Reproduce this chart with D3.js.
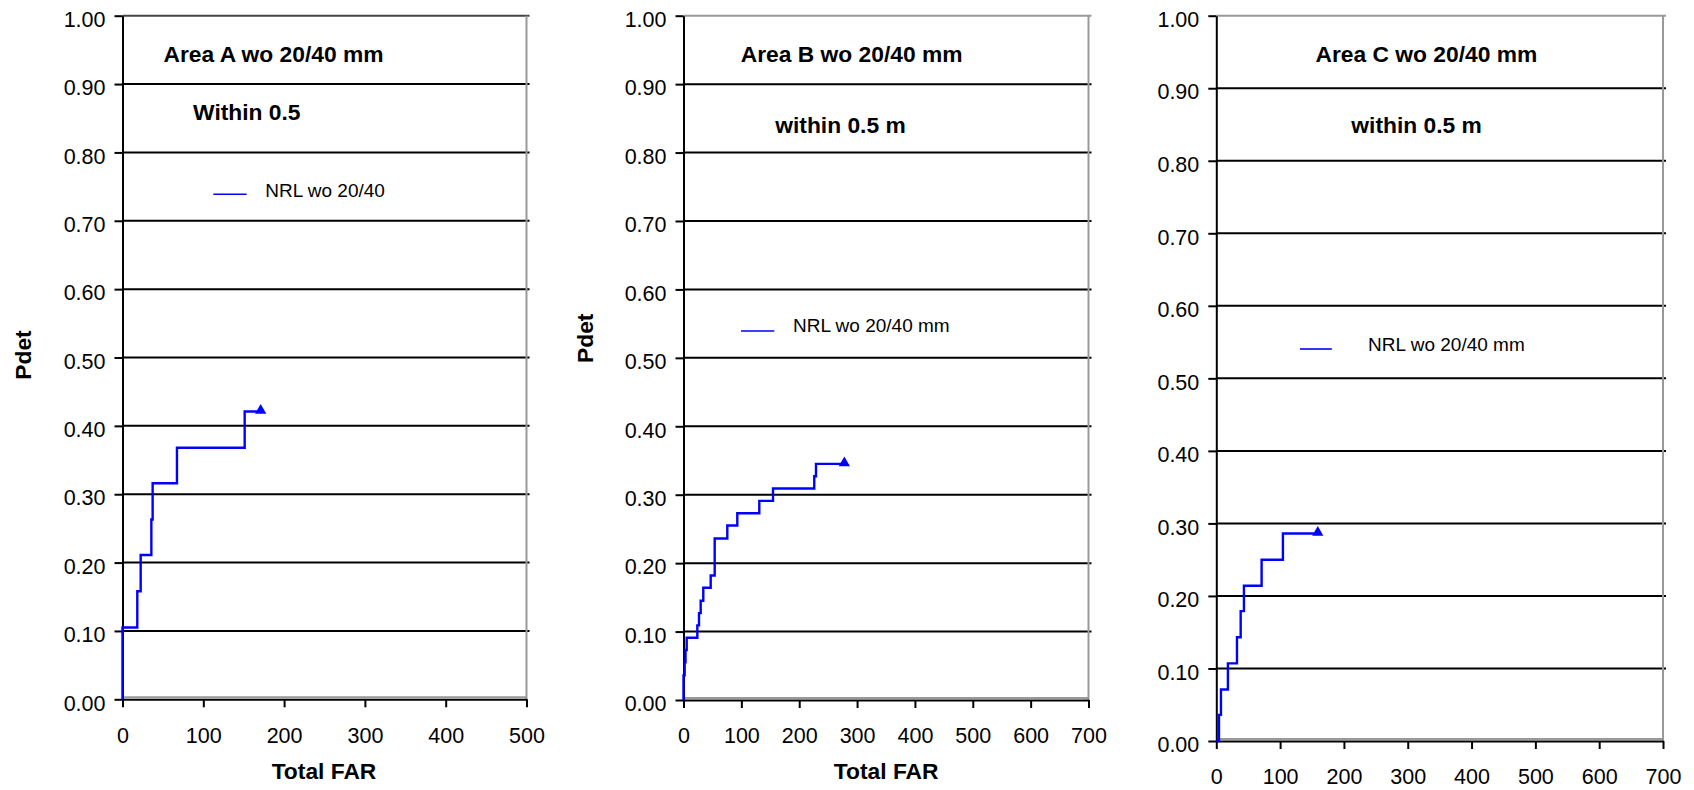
<!DOCTYPE html>
<html><head><meta charset="utf-8">
<script src="https://cdn.jsdelivr.net/npm/d3@7"></script>
<style>
body{margin:0;background:#fff;}
svg{display:block;font-family:"Liberation Sans",Arial,sans-serif;}
</style></head><body>
<svg id="chart" width="1694" height="790"></svg>
<script>
// ---- data ----
const pdetTicks = [0, 0.1, 0.2, 0.3, 0.4, 0.5, 0.6, 0.7, 0.8, 0.9, 1.0];
const farTicksA = [0, 100, 200, 300, 400, 500];
const farTicksB = [0, 100, 200, 300, 400, 500, 600, 700];
const farTicksC = [0, 100, 200, 300, 400, 500, 600, 700];

const farA  = [0, 0, 18.3, 22.5, 35.7, 37.3, 67.4, 151.2, 171];
const pdetA = [0, 0.105, 0.158, 0.211, 0.263, 0.316, 0.368, 0.421, 0.421];

const farB  = [0, 0, 2, 3.5, 5.5, 23.9, 26.8, 29.7, 34.2, 47, 53.9, 75.7, 93, 131, 154.7, 226, 229, 278];
const pdetB = [0, 0.036, 0.055, 0.073, 0.091, 0.109, 0.127, 0.145, 0.164, 0.182, 0.236, 0.255, 0.273, 0.291, 0.309, 0.327, 0.345, 0.345];

const farC  = [0, 4.2, 7.3, 18.2, 32.4, 38.2, 43.3, 71, 104.4, 159];
const pdetC = [0, 0.036, 0.071, 0.107, 0.143, 0.179, 0.214, 0.25, 0.286, 0.286];

const panelTitles = ["Area A wo 20/40 mm", "Area B wo 20/40 mm", "Area C wo 20/40 mm"];
const panelSubtitles = ["Within 0.5", "within 0.5 m", "within 0.5 m"];
const seriesNames = ["NRL wo 20/40", "NRL wo 20/40 mm", "NRL wo 20/40 mm"];
const xTitle = "Total FAR";
const yTitle = "Pdet";

// ---- layout ----
const panels = [
  {far: farA, pdet: pdetA, ticks: farTicksA, xMax: 500, title: panelTitles[0], sub: panelSubtitles[0], name: seriesNames[0],
   x0: 122.5, x1: 526.5, y0: 699.3, y1: 15.7, topColor: "#444",
   titleX: 273.5, titleY: 62.3, subX: 246.8, subY: 120.2,
   legX1: 213.3, legX2: 246.6, legY: 194.3, legTX: 265.2, legTY: 196.7,
   xtX: 324, xtY: 779, ytX: 31.2, ytY: 355},
  {far: farB, pdet: pdetB, ticks: farTicksB, xMax: 700, title: panelTitles[1], sub: panelSubtitles[1], name: seriesNames[1],
   x0: 683.5, x1: 1088.5, y0: 700, y1: 15.7, topColor: "#999",
   titleX: 851.6, titleY: 62.3, subX: 840.5, subY: 132.7,
   legX1: 741, legX2: 774.3, legY: 331, legTX: 793, legTY: 332.3,
   xtX: 886.2, xtY: 779, ytX: 593, ytY: 338.3},
  {far: farC, pdet: pdetC, ticks: farTicksC, xMax: 700, title: panelTitles[2], sub: panelSubtitles[2], name: seriesNames[2],
   x0: 1216.3, x1: 1663, y0: 741, y1: 15.7, topColor: "#999",
   titleX: 1426.4, titleY: 62.3, subX: 1416.6, subY: 132.7,
   legX1: 1300, legX2: 1331.8, legY: 349, legTX: 1368.1, legTY: 350.7,
   xtX: null, xtY: null, ytX: null, ytY: null}
];

const svg = d3.select("#chart");
const blue = "#0000ff";

panels.forEach(p => {
  const x = d3.scaleLinear().domain([0, p.xMax]).range([p.x0, p.x1]);
  const y = d3.scaleLinear().domain([0, 1]).range([p.y0, p.y1]);
  const g = svg.append("g");

  // gridlines
  g.selectAll("line.grid").data(pdetTicks.filter(t => t > 0)).join("line")
    .attr("x1", p.x0).attr("x2", p.x1 + 3)
    .attr("y1", d => y(d)).attr("y2", d => y(d))
    .attr("stroke", d => d === 1 ? p.topColor : "#000")
    .attr("stroke-width", 2);

  // plot-area border (right, bottom)
  g.append("line").attr("x1", p.x1).attr("x2", p.x1).attr("y1", y(1)).attr("y2", y(0))
    .attr("stroke", "#999").attr("stroke-width", 2);
  g.append("line").attr("x1", p.x0).attr("x2", p.x1).attr("y1", y(0) - 2).attr("y2", y(0) - 2)
    .attr("stroke", "#999").attr("stroke-width", 2);

  // axes
  const ya = g.append("g").attr("transform", `translate(${p.x0},0)`)
    .call(d3.axisLeft(y).tickValues(pdetTicks).tickSize(8).tickSizeOuter(0).tickPadding(9).tickFormat(d3.format(".2f")));
  const xa = g.append("g").attr("transform", `translate(0,${p.y0})`)
    .call(d3.axisBottom(x).tickValues(p.ticks).tickSize(8).tickSizeOuter(0).tickPadding(20).tickFormat(d3.format("d")));
  [ya, xa].forEach(a => {
    a.select(".domain").attr("stroke", "#000").attr("stroke-width", 2);
    a.selectAll(".tick line").attr("stroke", "#000").attr("stroke-width", 2);
    a.selectAll(".tick text").attr("fill", "#000").style("font-size", "21.5px")
      .style("font-family", '"Liberation Sans", Arial, sans-serif');
  });
  ya.selectAll(".tick text").attr("dy", "0.5em");

  // series
  const idx = d3.range(p.far.length);
  g.append("path")
    .attr("d", d3.line().x(i => x(p.far[i])).y(i => y(p.pdet[i])).curve(d3.curveStepAfter)(idx))
    .attr("fill", "none").attr("stroke", blue).attr("stroke-width", 2.4);
  const last = idx[idx.length - 1];
  g.append("path")
    .attr("d", d3.symbol(d3.symbolTriangle).size(55)())
    .attr("transform", `translate(${x(p.far[last])},${y(p.pdet[last]) - 1})`)
    .attr("fill", blue);

  // texts
  const bold = sel => sel.attr("font-weight", "bold").attr("font-size", 22.8).attr("fill", "#000");
  g.append("text").attr("x", p.titleX).attr("y", p.titleY).attr("text-anchor", "middle").text(p.title).call(bold);
  g.append("text").attr("x", p.subX).attr("y", p.subY).attr("text-anchor", "middle").text(p.sub).call(bold);

  // legend
  g.append("line").attr("x1", p.legX1).attr("x2", p.legX2).attr("y1", p.legY).attr("y2", p.legY)
    .attr("stroke", blue).attr("stroke-width", 1.6);
  g.append("text").attr("x", p.legTX).attr("y", p.legTY).attr("font-size", 19).attr("fill", "#000").text(p.name);

  if (p.xtX !== null) {
    g.append("text").attr("x", p.xtX).attr("y", p.xtY).attr("text-anchor", "middle").text(xTitle).call(bold);
    g.append("text").attr("transform", `translate(${p.ytX},${p.ytY}) rotate(-90)`)
      .attr("text-anchor", "middle").text(yTitle).call(bold);
  }
});
</script>
</body></html>
